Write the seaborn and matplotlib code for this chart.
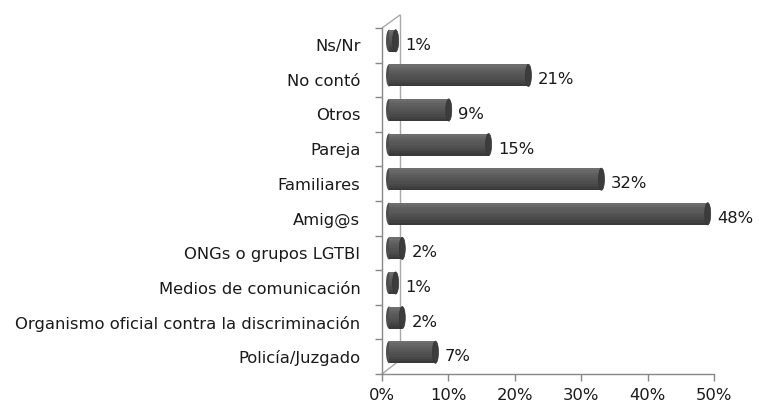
import matplotlib
matplotlib.use("Agg")
import matplotlib.pyplot as plt
import matplotlib.transforms as mtransforms
from matplotlib.patches import Ellipse, Rectangle
from matplotlib.lines import Line2D
import matplotlib.colors as mcolors
import seaborn as sns
import pandas as pd
import numpy as np

categories = ["Ns/Nr", "No contó", "Otros", "Pareja", "Familiares", "Amig@s",
              "ONGs o grupos LGTBI", "Medios de comunicación",
              "Organismo oficial contra la discriminación", "Policía/Juzgado"]
values = [0.01, 0.21, 0.09, 0.15, 0.32, 0.48, 0.02, 0.01, 0.02, 0.07]
labels = ["1%", "21%", "9%", "15%", "32%", "48%", "2%", "1%", "2%", "7%"]
xticks = [0, 0.1, 0.2, 0.3, 0.4, 0.5]
xticklabels = ["0%", "10%", "20%", "30%", "40%", "50%"]

sns.set_theme(style="white")
plt.rcParams['font.family'] = ['DejaVu Sans']

W, H = 759, 409
FS = 11.8
fig = plt.figure(figsize=(W / 100, H / 100), dpi=100)
ax = fig.add_axes([382 / W, 35 / H, 332 / W, 346 / H])
ax.patch.set_alpha(0)

df = pd.DataFrame({"cat": categories, "val": values})
BW = 0.64
sns.barplot(data=df, x="val", y="cat", color="#555555", saturation=1,
            width=BW, ax=ax, linewidth=0)

# 3D depth offset for the bars
off = mtransforms.ScaledTranslation(7 / 100, 4.5 / 100, fig.dpi_scale_trans)
trans = ax.transData + off
bars = list(ax.patches)
shade = mcolors.LinearSegmentedColormap.from_list(
    "cyl", ["#6e6e6e", "#5e5e5e", "#555555", "#4a4a4a", "#3a3a3a"])
capw = 0.009
for p in bars:
    p.set_transform(trans)
    p.set_clip_on(False)
    x0, y0, w, h = p.get_x(), p.get_y(), p.get_width(), p.get_height()
    n = 10
    for k in range(n):
        ax.add_patch(Rectangle((x0, y0 + k * h / n), w, h / n,
                               facecolor=shade(k / (n - 1)), lw=0,
                               transform=trans, clip_on=False, zorder=2.1))
    # left rounded end
    ax.add_patch(Ellipse((x0, y0 + h / 2), capw, h, facecolor="#4e4e4e",
                         lw=0, transform=trans, clip_on=False, zorder=2.0))
    # right end cap
    ax.add_patch(Ellipse((x0 + w, y0 + h / 2), capw, h, facecolor="#3c3c3c",
                         edgecolor="#333333", lw=0.5, transform=trans,
                         clip_on=False, zorder=2.2))

for i, v in enumerate(values):
    ax.text(v + 0.025, i, labels[i], va="center", ha="left", fontsize=FS,
            color="#1a1a1a")

ax.set_xlim(0, 0.5)
ax.set_ylim(len(categories) - 0.5, -0.5)
ax.set_xticks(xticks)
ax.set_xticklabels(xticklabels, fontsize=FS, color="#1a1a1a")
ax.set_yticks(range(len(categories)))
ax.set_yticklabels(categories, fontsize=FS, color="#1a1a1a")
ax.set_xlabel("")
ax.set_ylabel("")
ax.set_yticks(np.arange(-0.5, len(categories), 1), minor=True)
ax.tick_params(axis="y", which="major", length=0, pad=15.5)
ax.tick_params(axis="y", which="minor", length=5, color="#888888", width=1,
               left=True)
ax.tick_params(axis="x", which="major", length=5, color="#888888", width=1,
               bottom=True, pad=5)
for s in ["top", "right"]:
    ax.spines[s].set_visible(False)
for s in ["left", "bottom"]:
    ax.spines[s].set_color("#888888")
    ax.spines[s].set_linewidth(1)

# back wall lines (3D frame), drawn behind the bars
dx = 18
fx0, fy0 = 382 / W, 35 / H
ftop = (35 + 346) / H
wall = [((fx0, ftop), (fx0 + dx / W, ftop + 13 / H)),
        ((fx0 + dx / W, ftop + 13 / H), (fx0 + dx / W, fy0 + 14 / H)),
        ((fx0, fy0), (fx0 + dx / W, fy0 + 14 / H))]
for (a, b) in wall:
    fig.add_artist(Line2D([a[0], b[0]], [a[1], b[1]], color="#a8a8a8", lw=1,
                          transform=fig.transFigure, zorder=-1))

fig.savefig("out.png", dpi=100, facecolor="white")
